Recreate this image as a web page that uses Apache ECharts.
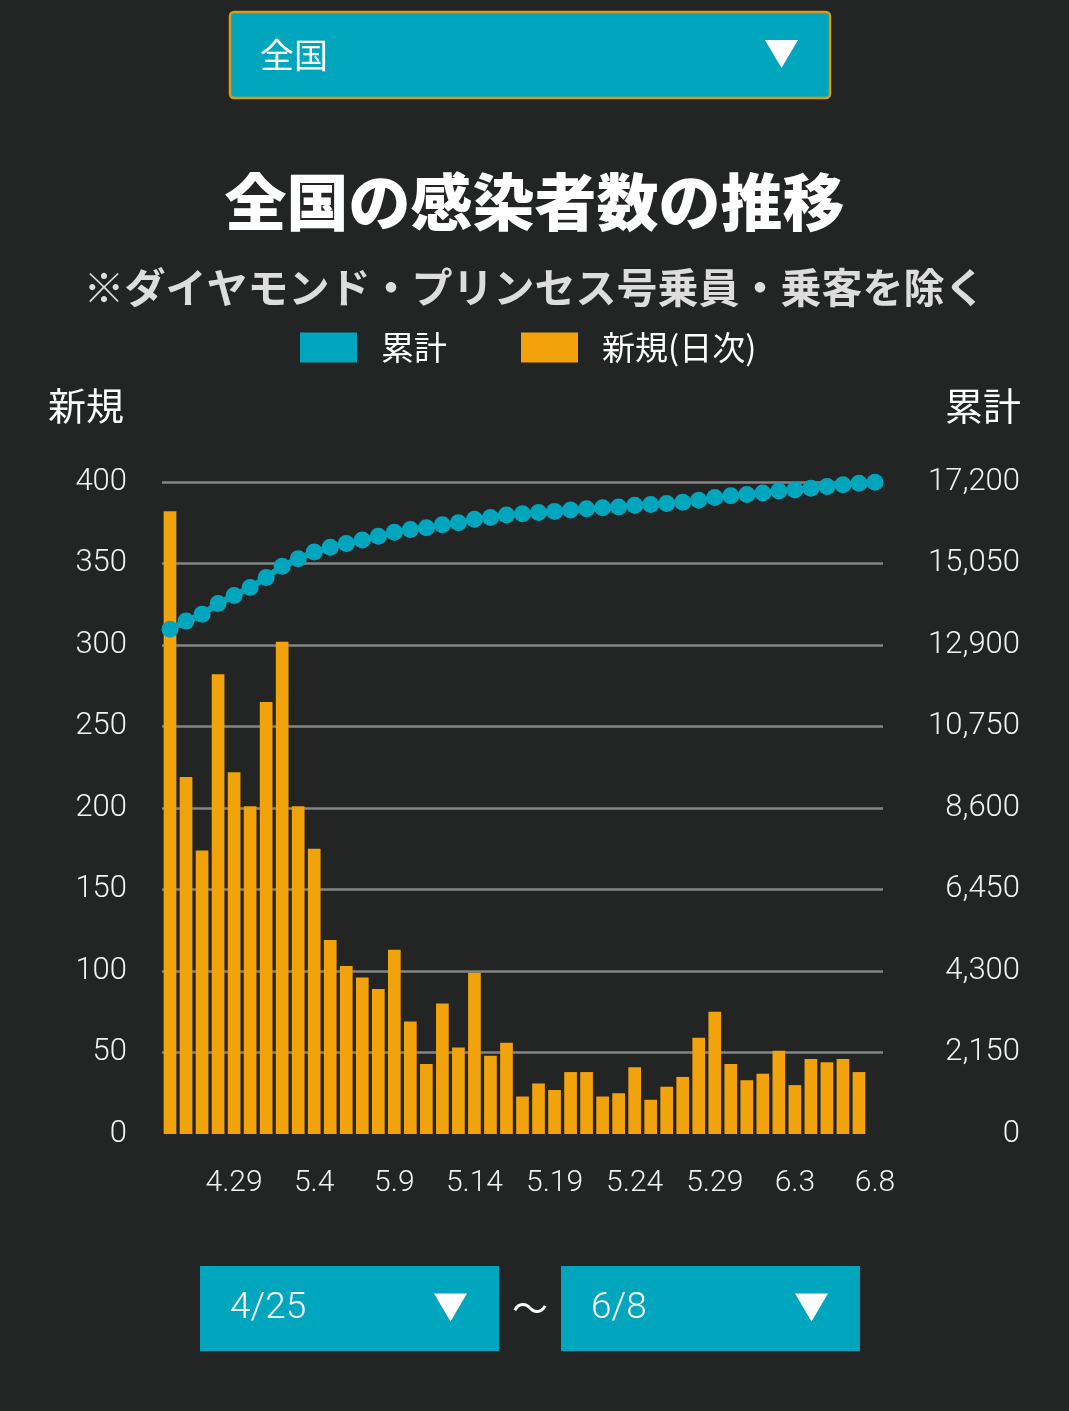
<!DOCTYPE html>
<html lang="ja">
<head>
<meta charset="utf-8">
<title>全国の感染者数の推移</title>
<script src="https://cdn.jsdelivr.net/npm/echarts@6/dist/echarts.min.js"></script>
<style>
    html, body { margin: 0; padding: 0; background: #222524; }
    #main { width: 1069px; height: 1411px; }
</style>
</head>
<body>
<div id="main"></div>
<script>
// 4/25 〜 6/8
const dates = [
    '4.25', '4.26', '4.27', '4.28', '4.29', '4.30',
    '5.1', '5.2', '5.3', '5.4', '5.5', '5.6', '5.7', '5.8', '5.9', '5.10',
    '5.11', '5.12', '5.13', '5.14', '5.15', '5.16', '5.17', '5.18', '5.19', '5.20',
    '5.21', '5.22', '5.23', '5.24', '5.25', '5.26', '5.27', '5.28', '5.29', '5.30', '5.31',
    '6.1', '6.2', '6.3', '6.4', '6.5', '6.6', '6.7', '6.8'
]

// 新規(日次) - 6/8 は棒なし
const dailyNew = [
    382, 219, 174, 282, 222, 201, 265, 302, 201, 175,
    119, 103, 96, 89, 113, 69, 43, 80, 53, 99,
    48, 56, 23, 31, 27, 38, 38, 23, 25, 41,
    21, 29, 35, 59, 75, 43, 33, 37, 51, 30,
    46, 44, 46, 38, null
]

// 累計
const cumulative = [
    13314, 13530, 13710, 13992, 14206, 14414, 14680, 14980, 15176, 15352,
    15480, 15578, 15670, 15768, 15876, 15946, 15996, 16070, 16122, 16215,
    16266, 16330, 16365, 16395, 16425, 16460, 16492, 16520, 16542, 16584,
    16606, 16634, 16666, 16718, 16790, 16838, 16872, 16908, 16960, 16992,
    17037, 17080, 17126, 17167, 17195
]

const leftMax = 400
const leftStep = 50
const rightMax = 17200
const rightStep = 2150

const TEAL = '#00a6bd'
const ORANGE = '#f2a20a'
const BG = '#222524'
const NUM_FONT = 'Roboto, "Noto Sans", sans-serif'
const JP_FONT = '"Noto Sans CJK JP", "Noto Sans", sans-serif'

const chart = echarts.init(document.getElementById('main'), null, { renderer: 'canvas' })

// プルダウン風の箱
function selectBox(x, y, w, h, label, font, weight, fontSize, border) {
    const tx = x + w - 65
    const ty = y + h / 2 - 15
    return [
        {
            type: 'rect',
            shape: { x: x, y: y, width: w, height: h, r: border ? 4 : 0 },
            style: border ? { fill: TEAL, stroke: '#d99a1a', lineWidth: 2.5 } : { fill: TEAL }
        },
        {
            type: 'text',
            x: x + 30,
            y: y + h / 2,
            style: {
                text: label,
                fill: '#ffffff',
                font: weight + ' ' + fontSize + 'px ' + font,
                verticalAlign: 'middle'
            }
        },
        {
            type: 'polygon',
            shape: { points: [[tx, ty], [tx + 33, ty], [tx + 16.5, ty + 28]] },
            style: { fill: '#ffffff' }
        }
    ]
}

const option = {
    backgroundColor: BG,
    animation: false,
    title: [
        {
            text: '全国の感染者数の推移',
            left: 'center',
            top: 166,
            textStyle: { color: '#ffffff', fontSize: 62, fontWeight: 900, fontFamily: JP_FONT }
        },
        {
            text: '※ダイヤモンド・プリンセス号乗員・乗客を除く',
            left: 'center',
            top: 262,
            textStyle: { color: '#dddddd', fontSize: 41, fontWeight: 'bold', fontFamily: JP_FONT }
        }
    ],
    legend: {
        left: 295,
        top: 326,
        icon: 'rect',
        itemWidth: 57,
        itemHeight: 30,
        itemGap: 74,
        data: ['累計', '新規(日次)'],
        textStyle: {
            color: '#ffffff',
            fontSize: 33,
            fontFamily: JP_FONT,
            padding: [0, 0, 0, 19]
        }
    },
    grid: { left: 162, right: 1069 - 883, top: 482, bottom: 1411 - 1134 },
    xAxis: {
        type: 'category',
        data: dates,
        boundaryGap: true,
        axisLine: { show: false },
        axisTick: { show: false },
        axisLabel: {
            color: '#f2f2f2',
            fontSize: 30,
            fontFamily: NUM_FONT,
            fontWeight: 300,
            margin: 34,
            interval: function (i) { return i % 5 === 4 }
        }
    },
    yAxis: [
        {
            type: 'value',
            min: 0,
            max: leftMax,
            interval: leftStep,
            axisLine: { show: false },
            axisTick: { show: false },
            axisLabel: {
                color: '#f2f2f2',
                fontSize: 31,
                fontFamily: NUM_FONT,
                fontWeight: 300,
                margin: 35
            },
            splitLine: { showMinLine: false, lineStyle: { color: '#858585', width: 2.5 } }
        },
        {
            type: 'value',
            min: 0,
            max: rightMax,
            interval: rightStep,
            position: 'right',
            axisLine: { show: false },
            axisTick: { show: false },
            axisLabel: {
                color: '#f2f2f2',
                fontSize: 31,
                fontFamily: NUM_FONT,
                fontWeight: 300,
                align: 'right',
                margin: 1020 - 883,
                formatter: function (v) { return v.toLocaleString('en-US') }
            },
            splitLine: { show: false }
        }
    ],
    series: [
        {
            name: '累計',
            type: 'line',
            yAxisIndex: 1,
            data: cumulative,
            z: 3,
            symbol: 'circle',
            symbolSize: 17,
            showAllSymbol: true,
            itemStyle: { color: TEAL },
            lineStyle: { color: TEAL, width: 6 }
        },
        {
            name: '新規(日次)',
            type: 'bar',
            yAxisIndex: 0,
            data: dailyNew,
            z: 2,
            barWidth: 12.7,
            itemStyle: { color: ORANGE }
        }
    ],
    graphic: [
        ...selectBox(230, 12, 600, 86, '全国', JP_FONT, 'normal', 34, true),
        {
            type: 'text',
            x: 48,
            y: 406,
            style: { text: '新規', fill: '#ffffff', font: '38px ' + JP_FONT, verticalAlign: 'middle' }
        },
        {
            type: 'text',
            x: 1021,
            y: 406,
            style: { text: '累計', fill: '#ffffff', font: '38px ' + JP_FONT, verticalAlign: 'middle', align: 'right' }
        },
        ...selectBox(200, 1266, 299, 85, '4/25', NUM_FONT, 300, 37, false),
        {
            type: 'text',
            x: 530,
            y: 1308,
            style: { text: '～', fill: '#ffffff', font: '36px ' + JP_FONT, verticalAlign: 'middle', align: 'center' }
        },
        ...selectBox(561, 1266, 299, 85, '6/8', NUM_FONT, 300, 37, false)
    ]
}

chart.setOption(option)
</script>
</body>
</html>
